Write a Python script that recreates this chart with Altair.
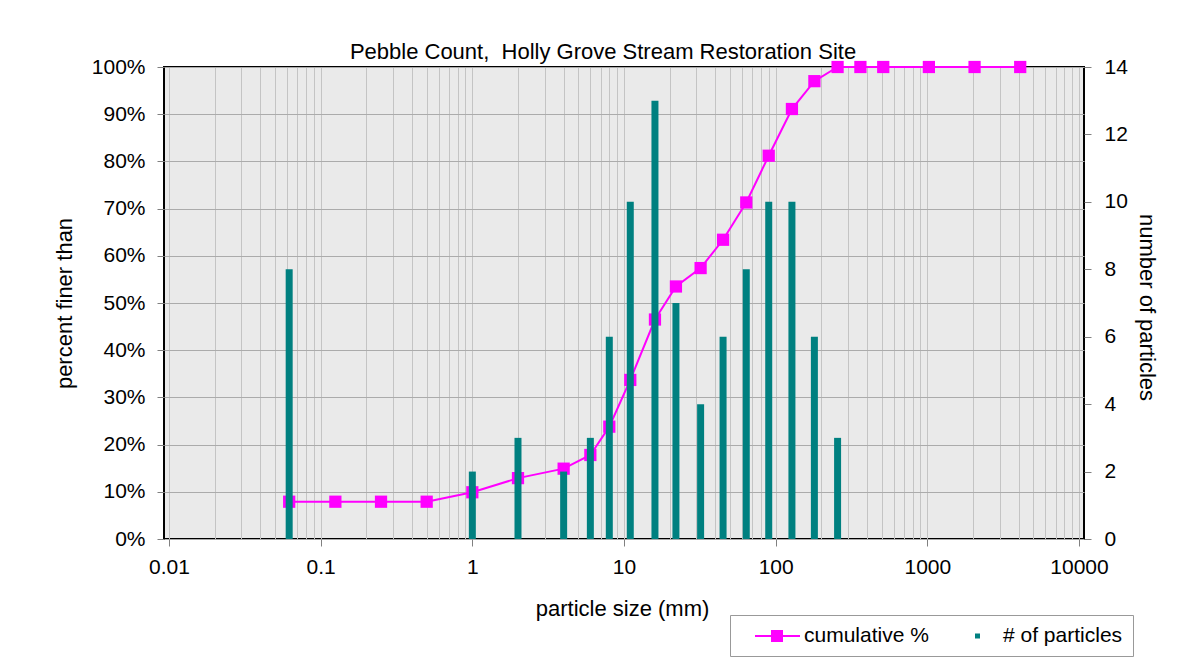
import altair as alt
import pandas as pd

# ---- data ----
line_sizes = [0.062, 0.125, 0.25, 0.5, 1, 2, 4, 6, 8, 11, 16, 22, 32, 45, 64, 90,
              128, 180, 256, 362, 512, 1024, 2048, 4096]
cumulative_pct = [7.9, 7.9, 7.9, 7.9, 9.9, 12.9, 14.9, 17.8, 23.8, 33.7, 46.5, 53.5,
                  57.4, 63.4, 71.3, 81.2, 91.1, 97.0, 100, 100, 100, 100, 100, 100]
bar_sizes = [0.062, 1, 2, 4, 6, 8, 11, 16, 22, 32, 45, 64, 90, 128, 180, 256]
particle_counts = [8, 2, 3, 2, 3, 6, 10, 13, 7, 4, 6, 8, 10, 10, 6, 3]

decades = [0.01, 0.1, 1, 10, 100, 1000, 10000]
pct_ticks = [0, 10, 20, 30, 40, 50, 60, 70, 80, 90, 100]
count_ticks = [0, 2, 4, 6, 8, 10, 12, 14]
series_names = ["cumulative %", "# of particles"]
series_colors = ["#FF00FF", "#008080"]

FONT = "Liberation Sans, Arial, sans-serif"

# grid positions: every 1..9 multiple within each decade
grid_vals = [d * m for d in decades[:-1] for m in range(1, 10)] + [decades[-1]]
is_decade = "abs(log(datum.value)/LN10 - round(log(datum.value)/LN10)) < 1e-6"

line_df = pd.DataFrame({"size": line_sizes, "pct": cumulative_pct})
bar_df = pd.DataFrame({"size": bar_sizes, "count": particle_counts})
legend_df = pd.DataFrame({"series": series_names})

x_scale = alt.Scale(type="log", domain=[decades[0], decades[-1]], nice=False)
x_axis = alt.Axis(
    values=grid_vals, grid=True, gridColor="#c4c4c4", gridWidth=1,
    domain=False, ticks=True, tickColor="#808080", tickSize=7,
    tickOpacity={"condition": {"test": is_decade, "value": 1}, "value": 0},
    labelExpr=f"({is_decade}) ? format(datum.value, '~g') : ''",
    labelFontSize=21, labelPadding=10, labelOverlap=False, labelFlush=False,
    labelColor="black", labelFont=FONT,
    titleFontSize=22, titleFontWeight="normal", titleFont=FONT, titleColor="black",
    titleX=458, titleY=76, titleBaseline="alphabetic",
)
X = alt.X("size:Q", scale=x_scale, axis=x_axis, title="particle size (mm)")

line_layer = alt.Chart(line_df).mark_line(
    color="#FF00FF", strokeWidth=2,
    point=alt.OverlayMarkDef(shape="square", filled=True, size=150, color="#FF00FF", opacity=1),
).encode(
    x=X,
    y=alt.Y("pct:Q", scale=alt.Scale(domain=[0, 100], nice=False),
            axis=alt.Axis(orient="left", values=pct_ticks, labelExpr="datum.value + '%'",
                          grid=True, gridColor="#ababab", gridWidth=1, domain=False,
                          tickColor="#808080", tickSize=7, labelPadding=12,
                          labelFontSize=21, labelColor="black", labelFont=FONT,
                          titleFontSize=22, titleFontWeight="normal", titleFont=FONT,
                          titleColor="black", titleAngle=-90, titleX=-100, titleY=236,
                          titleBaseline="middle"),
            title="percent finer than"),
)

bar_layer = alt.Chart(bar_df).mark_bar(size=7, color="#008080").encode(
    x=X,
    y=alt.Y("count:Q", scale=alt.Scale(domain=[0, 14], nice=False),
            axis=alt.Axis(orient="right", values=count_ticks, grid=False, domain=False,
                          tickColor="#808080", tickSize=7, labelPadding=13,
                          labelFontSize=21, labelColor="black", labelFont=FONT,
                          titleFontSize=22, titleFontWeight="normal", titleFont=FONT,
                          titleColor="black", titleAngle=90, titleX=62, titleY=240,
                          titleBaseline="middle"),
            title="number of particles"),
)

legend_paths = [
    "M0.4,0H4.9M2.1,-0.5H3.1V0.5H2.1Z",
    "M2.6,-0.15H2.9V0.15H2.6Z",
]
leg = alt.Legend(
    title=None, orient="none", legendX=566, legendY=548, direction="horizontal",
    columns=2, columnPadding=10, padding=10, strokeColor="#999999", fillColor="white",
    labelFontSize=21, labelFont=FONT, labelColor="black", labelOffset=42,
    symbolSize=400, symbolStrokeWidth=2,
)
legend_layer = alt.Chart(legend_df).transform_filter("false").mark_point(
    filled=True, strokeWidth=2, opacity=1
).encode(
    fill=alt.Fill("series:N", scale=alt.Scale(domain=series_names, range=series_colors), legend=leg),
    stroke=alt.Stroke("series:N", scale=alt.Scale(domain=series_names, range=series_colors), legend=leg),
    shape=alt.Shape("series:N", scale=alt.Scale(domain=series_names, range=legend_paths), legend=leg),
)

chart = alt.layer(line_layer, bar_layer, legend_layer).resolve_scale(
    y="independent"
).properties(
    width=920, height=472,
    title=alt.TitleParams("Pebble Count,\u00a0 Holly Grove Stream Restoration Site",
                          fontSize=22, fontWeight="normal", font=FONT, color="black",
                          anchor="middle", dx=-21, dy=8, offset=0),
    autosize=alt.AutoSizeParams(type="none"),
    padding={"left": 156, "top": 59, "right": 110, "bottom": 120},
    background="white",
    view=alt.ViewBackground(fill="#EAEAEA", stroke="black", strokeWidth=2),
).configure(
    font=FONT
).configure_view(
    stroke="black", strokeWidth=2, fill="#EAEAEA"
)

chart.save("out.html", embed_options={"renderer": "svg", "actions": False})
